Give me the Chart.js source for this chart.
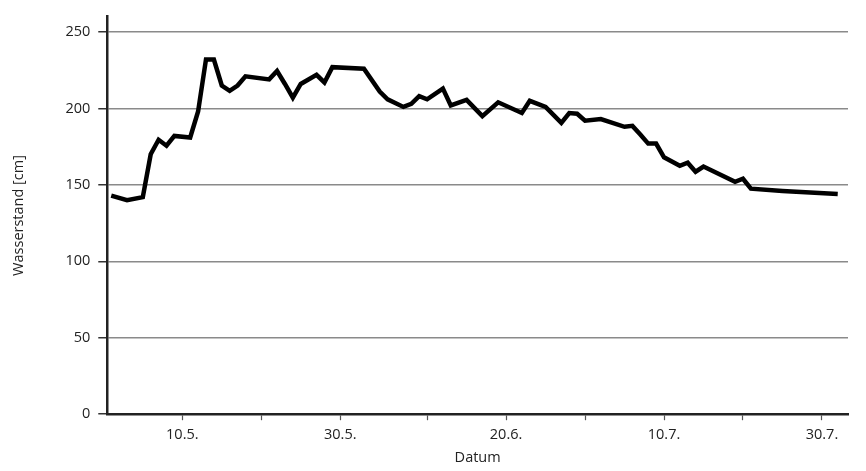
<!DOCTYPE html>
<html>
<head>
<meta charset="utf-8">
<script src="https://cdn.jsdelivr.net/npm/chart.js@4"></script>
<style>
  body { margin: 0; background: #fff; }
  #wrap { width: 866px; height: 471px; }
</style>
</head>
<body>
<div id="wrap"><canvas id="chart"></canvas></div>
<script>
// day number counted from 30 April (1 = 1.5.)
const days = [1, 3, 5, 6, 7, 8, 9, 11, 12, 13, 14, 15, 16, 17, 18, 21, 22, 23, 24, 25, 27, 28, 29, 33, 35, 36, 38, 39, 40, 41, 43, 44, 46, 48, 50, 53, 54, 56, 58, 59, 60, 61, 63, 66, 67, 68, 69, 70, 71, 73, 74, 75, 76, 80, 81, 82, 86, 93];
const levels = [143, 140, 142, 170, 179.5, 175.6, 182, 181, 198, 232, 232, 215, 211.5, 215, 221, 219, 224.5, 216, 207, 216, 222, 217, 227, 226, 211, 206, 201, 203, 208, 206, 213, 202, 205.6, 195, 204, 197, 205, 201, 190.6, 197, 196.5, 192, 193, 188, 188.6, 183, 177, 177, 168, 162.5, 164.5, 158.6, 162, 152, 154, 147.5, 146, 144];
const xTicks = [10, 20, 30, 41, 51, 61, 71, 81, 91];
const xLabels = { 10: '10.5.', 30: '30.5.', 51: '20.6.', 71: '10.7.', 91: '30.7.' };
const yTicks = [0, 50, 100, 150, 200, 250];

const font = { family: '"Open Sans", "Noto Sans", sans-serif', size: 14.5 };

new Chart(document.getElementById('chart'), {
    type: 'line',
    data: {
        datasets: [{
            data: days.map((d, i) => ({ x: d, y: levels[i] })),
            borderColor: '#000',
            borderWidth: 4.5,
            pointRadius: 0,
            tension: 0
        }]
    },
    options: {
        responsive: true,
        maintainAspectRatio: false,
        animation: false,
        layout: { padding: { top: 8, right: 18, left: 6, bottom: 4 } },
        plugins: { legend: { display: false }, tooltip: { enabled: false } },
        scales: {
            x: {
                type: 'linear',
                min: 0.5,
                max: 94.3,
                afterBuildTicks: (axis) => { axis.ticks = xTicks.map(v => ({ value: v })); },
                ticks: {
                    autoSkip: false,
                    maxRotation: 0,
                    color: '#222',
                    font: font,
                    padding: 6,
                    callback: (v) => xLabels[v] || ''
                },
                grid: { drawOnChartArea: false, tickLength: 6, tickColor: '#555', tickWidth: 1.2 },
                border: { color: '#222', width: 2.5 },
                title: { display: true, text: 'Datum', color: '#222', font: font, padding: { top: 0, bottom: 0 } }
            },
            y: {
                min: 0,
                max: 260,
                afterBuildTicks: (axis) => { axis.ticks = yTicks.map(v => ({ value: v })); },
                ticks: { color: '#222', font: font, padding: 8 },
                grid: {
                    color: (ctx) => ctx.tick && ctx.tick.value === 0 ? 'rgba(0,0,0,0)' : '#8a8a8a',
                    lineWidth: 1.5,
                    tickLength: 9,
                    tickColor: '#333',
                    tickWidth: 1.5
                },
                border: { color: '#222', width: 2.5 },
                title: { display: true, text: 'Wasserstand [cm]', color: '#222', font: font, padding: { bottom: 30 } }
            }
        }
    }
});
</script>
</body>
</html>
